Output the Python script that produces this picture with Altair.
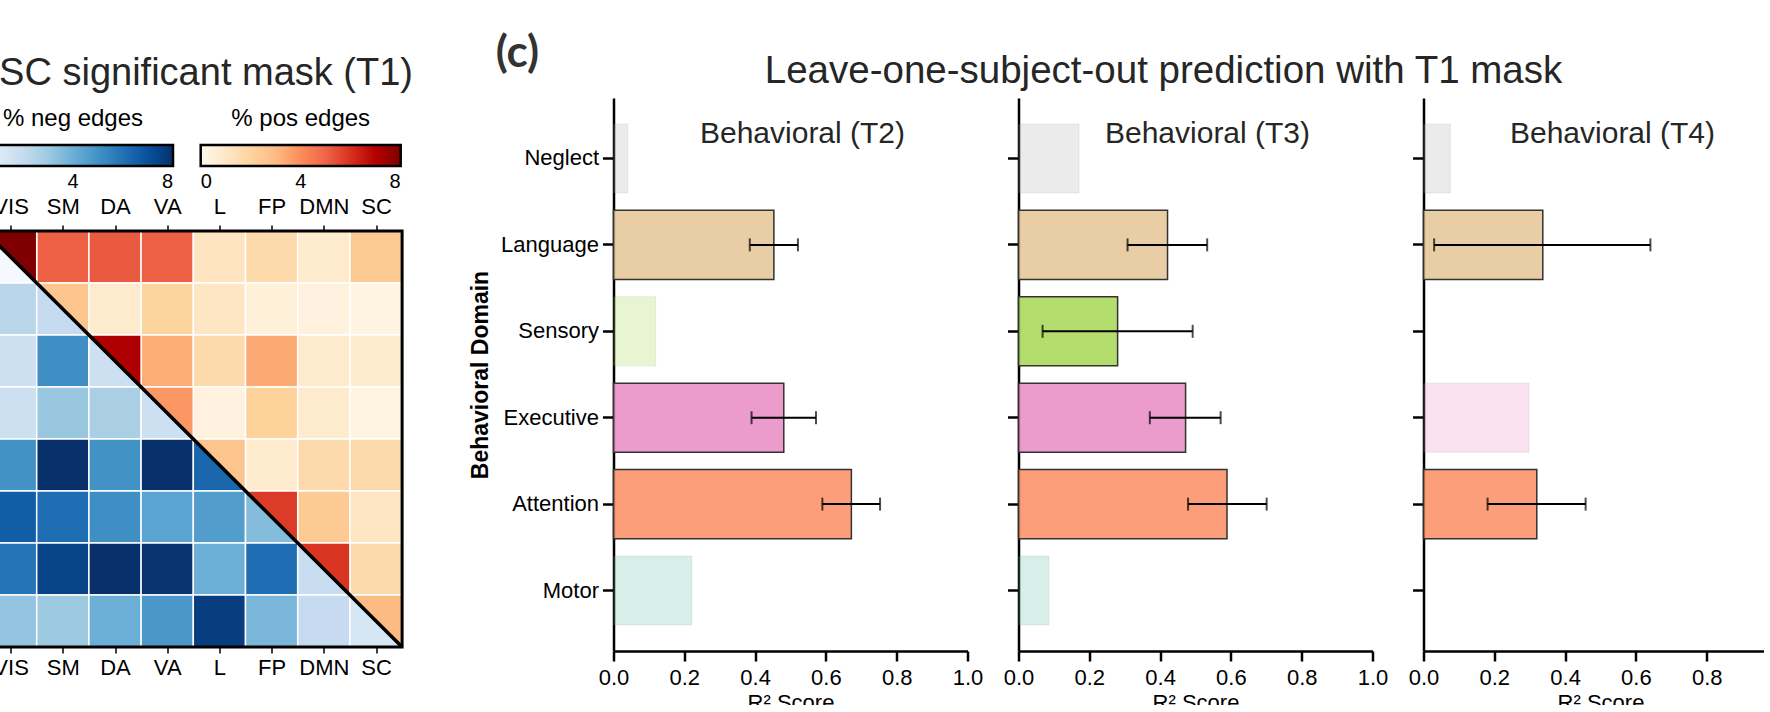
import json

import altair as alt
import pandas as pd

FONT = "Liberation Sans"

# ---------------- network-pair heatmap ----------------
networks = ["VIS", "SM", "DA", "VA", "L", "FP", "DMN", "SC"]

# % negative edges, lower triangle incl. diagonal (row r -> columns 0..r)
neg_pct = [
    [0.1],
    [2.3, 2.0],
    [1.7, 5.1, 1.7],
    [1.7, 3.1, 2.7, 1.7],
    [5.0, 8.0, 5.0, 8.0, 6.3],
    [6.6, 6.1, 5.1, 4.4, 4.6, 3.5],
    [5.9, 7.4, 8.0, 7.9, 4.0, 6.1, 1.9],
    [3.2, 3.0, 4.0, 4.8, 7.6, 3.7, 2.0, 1.3],
]
# % positive edges, upper triangle incl. diagonal (row r -> columns r..7)
pos_pct = [
    [8.0, 5.1, 5.2, 5.1, 1.2, 1.7, 0.9, 2.4],
    [2.6, 0.9, 2.0, 1.1, 0.5, 0.4, 0.3],
    [7.1, 3.3, 1.7, 3.4, 0.9, 0.9],
    [3.8, 0.4, 2.1, 0.9, 0.3],
    [2.6, 0.9, 1.7, 1.7],
    [5.8, 2.4, 1.1],
    [5.9, 1.7],
    [3.0],
]
pct_stops = [0, 1, 2, 3, 4, 5, 6, 7, 8]
pct_ticks = [0, 4, 8]
blues9 = ["#f7fbff", "#deebf7", "#c6dbef", "#9ecae1", "#6baed6",
          "#4292c6", "#2171b5", "#08519c", "#08306b"]
orrd9 = ["#fff7ec", "#fee8c8", "#fdd49e", "#fdbb84", "#fc8d59",
         "#ef6548", "#d7301f", "#b30000", "#7f0000"]
heat_title = "SC significant mask (T1)"
neg_title = "% neg edges"
pos_title = "% pos edges"

# ---------------- behavioural prediction bars ----------------
domains = ["Neglect", "Language", "Sensory", "Executive", "Attention", "Motor"]
palette = ["#b3b3b3", "#e5c494", "#a6d854", "#e78ac3", "#fc8d62", "#66c2a5"]

r2_t2 = [0.040, 0.453, 0.119, 0.481, 0.672, 0.221]
lo_t2 = [None, 0.385, None, 0.390, 0.590, None]
hi_t2 = [None, 0.521, None, 0.572, 0.753, None]
sig_t2 = [False, True, False, True, True, False]

r2_t3 = [0.171, 0.421, 0.280, 0.472, 0.589, 0.086]
lo_t3 = [None, 0.308, 0.068, 0.371, 0.479, None]
hi_t3 = [None, 0.533, 0.492, 0.571, 0.701, None]
sig_t3 = [False, True, True, True, True, False]

r2_t4 = [0.076, 0.337, None, 0.298, 0.320, None]
lo_t4 = [None, 0.030, None, None, 0.181, None]
hi_t4 = [None, 0.641, None, None, 0.458, None]
sig_t4 = [False, True, False, False, True, False]

r2_ticks = [0.0, 0.2, 0.4, 0.6, 0.8, 1.0]
main_title = "Leave-one-subject-out prediction with T1 mask"
panel_tag = "(c)"

# ---------------- layout (px) ----------------
PANEL_H = 553
BAR_W = 354
GAP = 51
CELL_W = 52.2
CELL_H = 52.0
HM_DROP = 133          # heatmap top sits this far below the panel top
HM_W = 577.5           # heatmap column width incl. the gap before the bars
N = len(networks)
HM_H = HM_DROP + N * CELL_H
NEG_X, POS_X, BAR_LEN = -11.5, 216.2, 200

# ---------------- heatmap tables ----------------
lower_rows, upper_rows, tri_rows = [], [], []
for r, vals in enumerate(neg_pct):
    for c, v in enumerate(vals):
        lower_rows.append({"c0": c, "c1": c + 1, "r0": r, "r1": r + 1, "neg": v})
for r, vals in enumerate(pos_pct):
    for k, v in enumerate(vals):
        c = r + k
        if c == r:
            # upper-right half of a diagonal cell
            tri_rows.append({"cell": r, "x": c, "top": r, "diag": r, "pos": v})
            tri_rows.append({"cell": r, "x": c + 1, "top": r, "diag": r + 1, "pos": v})
        else:
            upper_rows.append({"c0": c, "c1": c + 1, "r0": r, "r1": r + 1, "pos": v})
frame_df = pd.DataFrame({"x0": [0], "x1": [N], "y0": [0], "y1": [N]})

hx = alt.Scale(domain=[0, HM_W / CELL_W], nice=False, zero=False)
hy = alt.Scale(domain=[-HM_DROP / CELL_H, N], reverse=True, nice=False, zero=False)
neg_scale = alt.Scale(domain=pct_stops, range=blues9, interpolate="rgb")
pos_scale = alt.Scale(domain=pct_stops, range=orrd9, interpolate="rgb")
label_expr = f"{json.dumps(networks)}[floor(datum.value)]"
centres = [i + 0.5 for i in range(N)]


def net_axis(orient, offset=0, pad=4):
    return alt.Axis(
        orient=orient, values=centres, labelExpr=label_expr, title=None,
        domain=False, grid=False, tickSize=6, tickWidth=1.5, tickColor="black",
        labelFontSize=22, labelColor="black", labelPadding=pad, labelAngle=0,
        offset=offset,
    )


def pct_legend(x):
    return alt.Legend(
        title=None, orient="none", legendX=x, legendY=47, direction="horizontal",
        gradientLength=BAR_LEN, gradientThickness=21, gradientStrokeColor="black",
        gradientStrokeWidth=2.5, values=pct_ticks, format="d",
        labelFontSize=20, labelColor="black", labelAlign="center", labelOffset=6,
    )


blue = alt.Chart(pd.DataFrame(lower_rows)).mark_rect(stroke="white", strokeWidth=1.5).encode(
    x=alt.X("c0:Q", scale=hx, axis=net_axis("bottom", pad=4)), x2="c1",
    y=alt.Y("r0:Q", scale=hy, axis=None), y2="r1",
    color=alt.Color("neg:Q", scale=neg_scale, legend=pct_legend(NEG_X)),
)
red = alt.Chart(pd.DataFrame(upper_rows)).mark_rect(stroke="white", strokeWidth=1.5).encode(
    x=alt.X("c0:Q", scale=hx, axis=None), x2="c1",
    y=alt.Y("r0:Q", scale=hy, axis=None), y2="r1",
    color=alt.Color("pos:Q", scale=pos_scale, legend=pct_legend(POS_X)),
)
tri = alt.Chart(pd.DataFrame(tri_rows)).mark_area(stroke="white", strokeWidth=1.5).encode(
    x=alt.X("x:Q", scale=hx, axis=None),
    y=alt.Y("top:Q", scale=hy, axis=None), y2="diag",
    detail="cell:N",
    color=alt.Color("pos:Q", scale=pos_scale, legend=None),
)
frame = alt.Chart(frame_df).mark_rect(fillOpacity=0, stroke="black", strokeWidth=3).encode(
    x=alt.X("x0:Q", scale=hx, axis=net_axis("top", offset=-HM_DROP, pad=7)), x2="x1",
    y=alt.Y("y0:Q", scale=hy, axis=None), y2="y1",
)
diag = alt.Chart(frame_df).mark_rule(color="black", strokeWidth=3.5).encode(
    x=alt.X("x0:Q", scale=hx, axis=None), x2="x1",
    y=alt.Y("y0:Q", scale=hy, axis=None), y2="y1",
)
heat_label = alt.Chart(pd.DataFrame({"t": [heat_title]})).mark_text(
    align="right", baseline="alphabetic", fontSize=38, font=FONT, color="#262626"
).encode(text="t:N", x=alt.value(428.5), y=alt.value(-13))
bar_titles = alt.Chart(pd.DataFrame({
    "t": [neg_title, pos_title],
    "px": [NEG_X + BAR_LEN / 2, POS_X + BAR_LEN / 2],
})).mark_text(
    align="center", baseline="alphabetic", fontSize=24, font=FONT, color="black"
).encode(text="t:N", x=alt.X("px:Q", scale=None), y=alt.value(28))

heat = (
    alt.layer(blue, red, tri, frame, diag, heat_label, bar_titles)
    .resolve_scale(color="independent")
    .resolve_axis(x="independent")
    .properties(width=HM_W, height=HM_H)
)


# ---------------- bar panels ----------------
def session_frame(r2, lo, hi, sig):
    rows = []
    for d, col, v, a, b, s in zip(domains, palette, r2, lo, hi, sig):
        if v is None:
            continue
        rows.append({"domain": d, "hex": col, "r2": v, "lo": a, "hi": b, "sig": s})
    return pd.DataFrame(rows)


def bar_panel(df, name, first, extra=None):
    y_axis = alt.Axis(
        title="Behavioral Domain" if first else None, labels=first,
        titleFontSize=23, titleFontWeight="bold", titleColor="black", titlePadding=8,
        labelFontSize=22, labelColor="black", labelPadding=4,
        tickSize=11, tickWidth=2.5, tickColor="black",
        domainWidth=2.5, domainColor="black", grid=False,
    )
    x_axis = alt.Axis(
        values=r2_ticks, format=".1f", title="R² Score", titleFontSize=22,
        titleFontWeight="normal", titleColor="black", titlePadding=4,
        labelFontSize=22, labelColor="black", labelPadding=6, labelFlush=False,
        tickSize=10, tickWidth=2.5, tickColor="black",
        domainWidth=2.5, domainColor="black", grid=False,
    )
    y = alt.Y("domain:N", sort=domains,
              scale=alt.Scale(domain=domains, paddingInner=0.2, paddingOuter=0.3),
              axis=y_axis)
    x = alt.X("r2:Q", scale=alt.Scale(domain=[0, 1], nice=False, zero=False), axis=x_axis)
    base = alt.Chart(df)
    faded = base.transform_filter("!datum.sig").mark_bar(
        fillOpacity=0.26, stroke="#333333", strokeOpacity=0.08, strokeWidth=1
    ).encode(x=x, y=y, color=alt.Color("hex:N", scale=None))
    solid = base.transform_filter("datum.sig").mark_bar(
        fillOpacity=0.85, stroke="#333333", strokeWidth=1.5
    ).encode(x=x, y=y, color=alt.Color("hex:N", scale=None))
    err = base.transform_filter("isValid(datum.lo)")
    whisker = err.mark_rule(color="black", strokeWidth=2).encode(x="lo:Q", x2="hi:Q", y=y)
    cap_lo = err.mark_tick(color="black", thickness=2, size=13).encode(x="lo:Q", y=y)
    cap_hi = err.mark_tick(color="black", thickness=2, size=13).encode(x="hi:Q", y=y)
    label = alt.Chart(pd.DataFrame({"t": [name]})).mark_text(
        align="center", baseline="alphabetic", fontSize=30, font=FONT, color="#262626"
    ).encode(text="t:N", x=alt.value(189), y=alt.value(45))
    layers = [faded, solid, whisker, cap_lo, cap_hi, label] + (extra or [])
    return alt.layer(*layers).properties(width=BAR_W, height=PANEL_H)


tag = alt.Chart(pd.DataFrame({"t": [panel_tag]})).mark_text(
    align="center", baseline="middle", fontSize=44, font="Lato", fontWeight="bold", color="#333333"
).encode(text="t:N", x=alt.value(-96), y=alt.value(-44))
headline = alt.Chart(pd.DataFrame({"t": [main_title]})).mark_text(
    align="center", baseline="alphabetic", fontSize=38.5, font=FONT, color="#262626"
).encode(text="t:N", x=alt.value(145), y=alt.value(-15))

p1 = bar_panel(session_frame(r2_t2, lo_t2, hi_t2, sig_t2), "Behavioral (T2)", True, [tag])
p2 = bar_panel(session_frame(r2_t3, lo_t3, hi_t3, sig_t3), "Behavioral (T3)", False, [headline])
p3 = bar_panel(session_frame(r2_t4, lo_t4, hi_t4, sig_t4), "Behavioral (T4)", False)

chart = (
    alt.hconcat(heat, p1, p2, p3, spacing=GAP, bounds="flush")
    .resolve_scale(color="independent")
    .properties(padding={"left": -27.5, "top": 32, "right": -30, "bottom": -8},
                background="white")
    .configure(font=FONT)
    .configure_view(stroke=None, strokeWidth=0)
)

chart.save("out.html", embed_options={"renderer": "svg", "actions": False})
